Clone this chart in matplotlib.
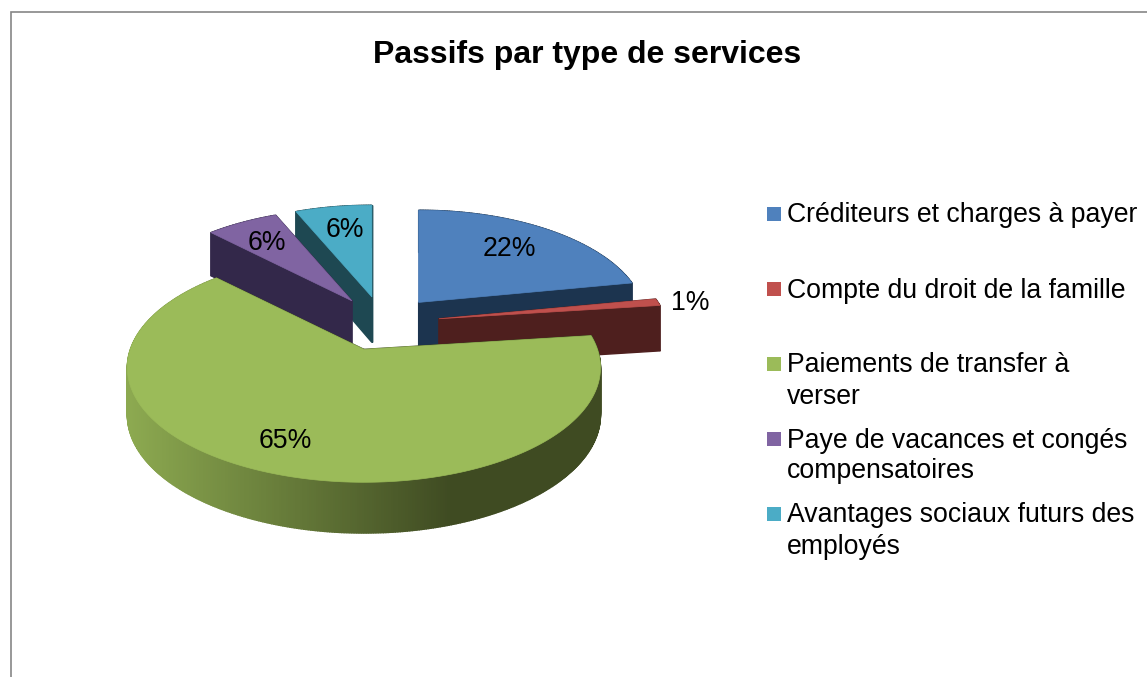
#!/usr/bin/env python3
"""Passifs par type de services: exploded pie with a 3D look."""
import matplotlib
matplotlib.use("Agg")
import matplotlib.pyplot as plt
import numpy as np

plt.rcParams["font.family"] = ["Liberation Sans", "DejaVu Sans"]

TITLE = "Passifs par type de services"
LABELS = [
    "Créditeurs et charges à payer",
    "Compte du droit de la famille",
    "Paiements de transfer à\nverser",
    "Paye de vacances et congés\ncompensatoires",
    "Avantages sociaux futurs des\nemployés",
]
VALUES = [22, 1, 64.6, 6, 6.4]
PCT_TEXT = ["22%", "1%", "65%", "6%", "6%"]

TOP = ["#4f81bd", "#c0504d", "#9bbb59", "#8064a2", "#4bacc6"]
WALL = ["#1c344f", "#4e1f1e", "#3f4b22", "#33284a", "#1e4852"]
GREEN_LIGHT = np.array([0x8c, 0xa9, 0x50]) / 255
GREEN_DARK = np.array([0x3f, 0x4b, 0x22]) / 255

# projection of the pie, in pixels
CX, CY = 383, 323
A, B = 228, 109
PERSP = 0.16
PERSP_SLICE = 0.10
EXPLODE = 0.25
DEPTH = 46
PCT_POS = [(509, 249), (690, 303), (285, 441), (267, 243), (345, 230)]
W, H = 1147, 677


def project(ang, c, scale):
    u, v = np.sin(ang), np.cos(ang)
    s = scale / (1 + PERSP * v)
    return c[0] + A * u * s, c[1] - B * v * s, DEPTH * np.sqrt(s)


def wall_quad(ax, p, q, color):
    xs = [p[0], q[0], q[0], p[0]]
    ys = [p[1], q[1], q[1] + q[2], p[1] + p[2]]
    ax.fill(xs, ys, color=color, lw=1)


def draw_slice(ax, a0, a1, i):
    mid = (a0 + a1) / 2
    # the whole slice moves along its middle, nearer slices look bigger
    scale = 1 / (1 + PERSP_SLICE * EXPLODE * np.cos(mid))
    c = (CX + A * EXPLODE * np.sin(mid) * scale, CY - B * EXPLODE * np.cos(mid) * scale)
    tip = (c[0], c[1], DEPTH * np.sqrt(scale))
    angs = np.linspace(a0, a1, max(int(np.degrees(a1 - a0) * 2), 6))
    rim = [project(t, c, scale) for t in angs]

    wall_quad(ax, tip, rim[0], WALL[i])
    wall_quad(ax, tip, rim[-1], WALL[i])
    for p, q in zip(rim[:-1], rim[1:]):
        color = WALL[i]
        if i == 2:
            t = np.clip(((p[0] + q[0]) / 2 - 130) / 320, 0, 1)
            color = tuple(GREEN_LIGHT * (1 - t) + GREEN_DARK * t)
        wall_quad(ax, p, q, color)

    xs = [tip[0]] + [p[0] for p in rim]
    ys = [tip[1]] + [p[1] for p in rim]
    ax.fill(xs, ys, color=TOP[i], lw=0.5)


fig = plt.figure(figsize=(W / 100, H / 100), dpi=100)
ax = fig.add_axes([0, 0, 1, 1])
ax.set_xlim(0, W)
ax.set_ylim(H, 0)
ax.axis("off")

# chart frame, cut by the image on the right and at the bottom
ax.plot([11, 11, W], [H, 12, 12], color="#868686", lw=1.2, solid_joinstyle="miter")

ax.text(587, 55, TITLE, fontsize=23, fontweight="bold", ha="center", va="center")

edges = np.radians(np.cumsum([0] + VALUES) / sum(VALUES) * 360)
for i in (4, 3, 0, 1, 2):
    draw_slice(ax, edges[i], edges[i + 1], i)

for i, pos in enumerate(PCT_POS):
    ax.text(pos[0], pos[1], PCT_TEXT[i], fontsize=19.2, ha="center", va="center", color="black")

legend_y = [214, 289, 364, 439, 514]
for i, label in enumerate(LABELS):
    ax.fill([767, 781, 781, 767], [legend_y[i] - 7, legend_y[i] - 7, legend_y[i] + 7, legend_y[i] + 7],
            color=TOP[i], lw=0)
    for j, line in enumerate(label.split("\n")):
        ax.text(787, legend_y[i] + 1.5 + j * 31, line, fontsize=19.2, ha="left", va="center", color="black")

fig.savefig("out.png", dpi=100)
